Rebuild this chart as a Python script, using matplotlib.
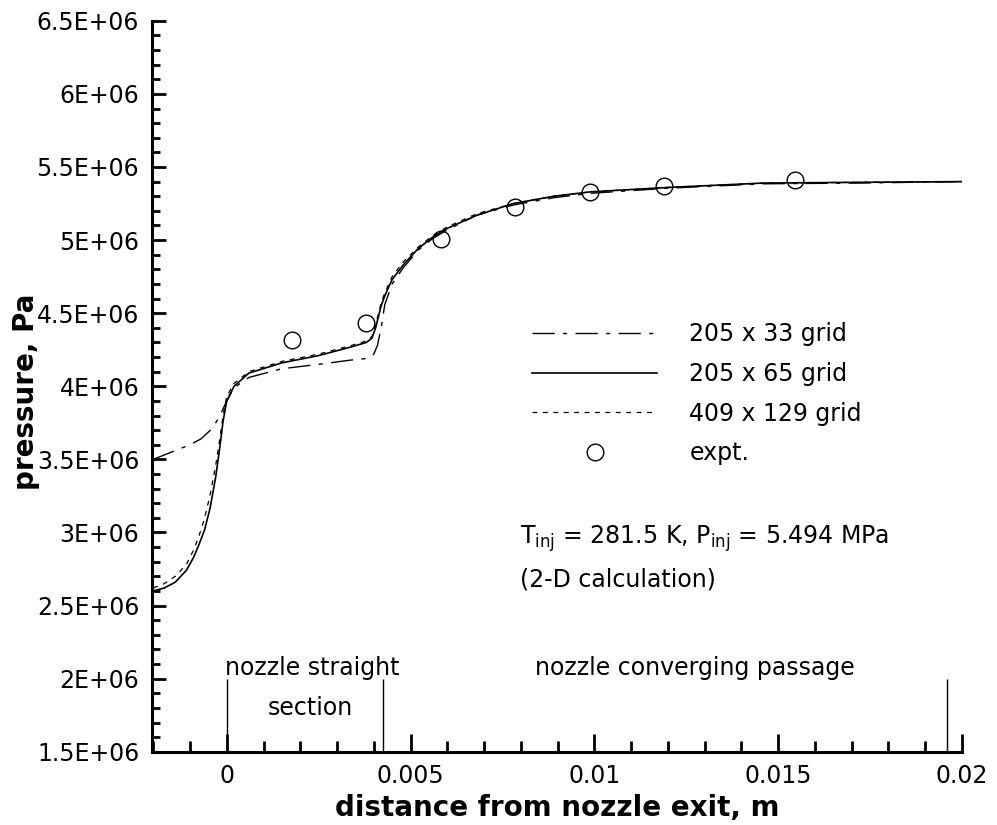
"""
Pressure along the nozzle axis: grid study vs. experiment.
"""

import matplotlib
matplotlib.use("Agg")
import matplotlib.pyplot as plt
from matplotlib.lines import Line2D
from matplotlib.ticker import MultipleLocator, FixedLocator, FixedFormatter

# ---- data ----
x_fine = [-0.002, -0.0017, -0.0014, -0.0011, -0.0009, -0.00075, -0.0006,
          -0.00045, -0.0003, -0.0002, -0.0001, 0.0, 0.0002, 0.0006, 0.0015,
          0.0025, 0.0034, 0.0038, 0.00395, 0.00405, 0.00413, 0.0042, 0.0043,
          0.0045, 0.0048, 0.0052, 0.0056, 0.006, 0.0068, 0.0078, 0.0089,
          0.0099, 0.012, 0.0146, 0.0172, 0.02]
p_205x65 = [2.60, 2.62, 2.66, 2.74, 2.83, 2.92, 3.02, 3.17, 3.38, 3.56, 3.76,
            3.90, 4.00, 4.09, 4.16, 4.21, 4.27, 4.30, 4.33, 4.40, 4.48, 4.55,
            4.62, 4.73, 4.83, 4.94, 5.02, 5.08, 5.17, 5.25, 5.30, 5.33, 5.36,
            5.39, 5.395, 5.40]
p_409x129 = [2.62, 2.65, 2.70, 2.78, 2.88, 2.98, 3.10, 3.26, 3.46, 3.62, 3.80,
             3.93, 4.02, 4.10, 4.17, 4.22, 4.28, 4.31, 4.34, 4.42, 4.50, 4.57,
             4.64, 4.75, 4.85, 4.95, 5.03, 5.09, 5.18, 5.25, 5.30, 5.33, 5.36,
             5.39, 5.395, 5.40]

x_coarse = [-0.002, -0.0015, -0.001, -0.0007, -0.0004, -0.0002, 0.0, 0.0002,
            0.0006, 0.0015, 0.0025, 0.0034, 0.0038, 0.004, 0.0041, 0.0042,
            0.0043, 0.0045, 0.0048, 0.0052, 0.0056, 0.006, 0.0068, 0.0078,
            0.0089, 0.0099, 0.012, 0.0146, 0.0172, 0.02]
p_205x33 = [3.50, 3.55, 3.60, 3.64, 3.71, 3.79, 3.90, 3.99, 4.06, 4.12, 4.15,
            4.18, 4.19, 4.22, 4.28, 4.40, 4.56, 4.70, 4.81, 4.93, 5.01, 5.07,
            5.17, 5.24, 5.29, 5.32, 5.355, 5.385, 5.39, 5.40]

x_expt = [0.00177, 0.0038, 0.00582, 0.00783, 0.00988, 0.0119, 0.01547]
p_expt = [4.316, 4.43, 5.01, 5.226, 5.327, 5.37, 5.41]

# section boundaries (nozzle exit, end of straight part, start of converging)
x_sections = [0.0, 0.00425, 0.0196]

series_labels = ["205 x 33 grid", "205 x 65 grid", "409 x 129 grid", "expt."]

ytick_values = [1.5e6, 2e6, 2.5e6, 3e6, 3.5e6, 4e6, 4.5e6, 5e6, 5.5e6, 6e6, 6.5e6]
ytick_labels = ["1.5E+06", "2E+06", "2.5E+06", "3E+06", "3.5E+06", "4E+06",
                "4.5E+06", "5E+06", "5.5E+06", "6E+06", "6.5E+06"]
xtick_values = [0.0, 0.005, 0.01, 0.015, 0.02]
xtick_labels = ["0", "0.005", "0.01", "0.015", "0.02"]

MPA = 1e6

plt.rcParams["font.family"] = ["DejaVu Sans"]
plt.rcParams["mathtext.fontset"] = "dejavusans"
plt.rcParams["lines.scale_dashes"] = False

fig = plt.figure(figsize=(9.97, 8.25), dpi=100)
ax = fig.add_axes([0.1522, 0.0888, 0.8127, 0.886])

dashdot = (0, (16, 6, 3, 6))
shortdash = (0, (3.5, 4.0))

ax.plot(x_coarse, [p * MPA for p in p_205x33], color="k", lw=1.0, ls=dashdot)
ax.plot(x_fine, [p * MPA for p in p_205x65], color="k", lw=1.2, ls="-")
ax.plot(x_fine, [p * MPA for p in p_409x129], color="k", lw=0.9, ls=shortdash)
ax.plot(x_expt, [p * MPA for p in p_expt], ls="none", marker="o", ms=12,
        mfc="none", mec="k", mew=1.0)

ax.vlines(x_sections, 1.5e6, 2.0e6, color="k", lw=1.0)

ax.text(-0.00005, 2.07e6, "nozzle straight", ha="left", va="center", fontsize=17)
ax.text(0.00228, 1.80e6, "section", ha="center", va="center", fontsize=17)
ax.text(0.01273, 2.07e6, "nozzle converging passage", ha="center", va="center",
        fontsize=17)
ax.text(0.00798, 2.96e6,
        r"T$_{\mathrm{inj}}$ = 281.5 K, P$_{\mathrm{inj}}$ = 5.494 MPa",
        ha="left", va="center", fontsize=17)
ax.text(0.00798, 2.68e6, "(2-D calculation)", ha="left", va="center", fontsize=17)

handles = [
    Line2D([], [], color="k", lw=1.0, ls=dashdot),
    Line2D([], [], color="k", lw=1.2, ls="-"),
    Line2D([], [], color="k", lw=0.9, ls=shortdash),
    Line2D([], [], ls="none", marker="o", ms=12, mfc="none", mec="k", mew=1.0),
]
ax.legend(handles, series_labels, loc="upper left",
          bbox_to_anchor=(532 / 997, 1 - 322 / 825), bbox_transform=fig.transFigure,
          frameon=False, fontsize=17, handlelength=5.3, handletextpad=1.37,
          borderpad=0, borderaxespad=0, labelspacing=0.67, numpoints=1)

ax.set_xlim(-0.00204, 0.02)
ax.set_ylim(1.5e6, 6.5e6)

ax.xaxis.set_major_locator(FixedLocator(xtick_values))
ax.xaxis.set_major_formatter(FixedFormatter(xtick_labels))
ax.xaxis.set_minor_locator(MultipleLocator(0.001))
ax.yaxis.set_major_locator(FixedLocator(ytick_values))
ax.yaxis.set_major_formatter(FixedFormatter(ytick_labels))
ax.yaxis.set_minor_locator(MultipleLocator(0.1e6))

ax.tick_params(which="both", direction="in", labelsize=17, width=2.0)
ax.tick_params(axis="x", which="major", length=13, pad=9)
ax.tick_params(axis="x", which="minor", length=8)
ax.tick_params(axis="y", which="major", length=10, pad=9)
ax.tick_params(axis="y", which="minor", length=6)

for side in ("top", "right"):
    ax.spines[side].set_visible(False)
for side in ("left", "bottom"):
    ax.spines[side].set_linewidth(2.2)

ax.set_xlabel("distance from nozzle exit, m", fontsize=20, fontweight="bold",
              labelpad=4)
ax.set_ylabel("pressure, Pa", fontsize=20, fontweight="bold")
ax.yaxis.set_label_coords(-0.138, 0.492)

fig.savefig("out.png", dpi=100)
